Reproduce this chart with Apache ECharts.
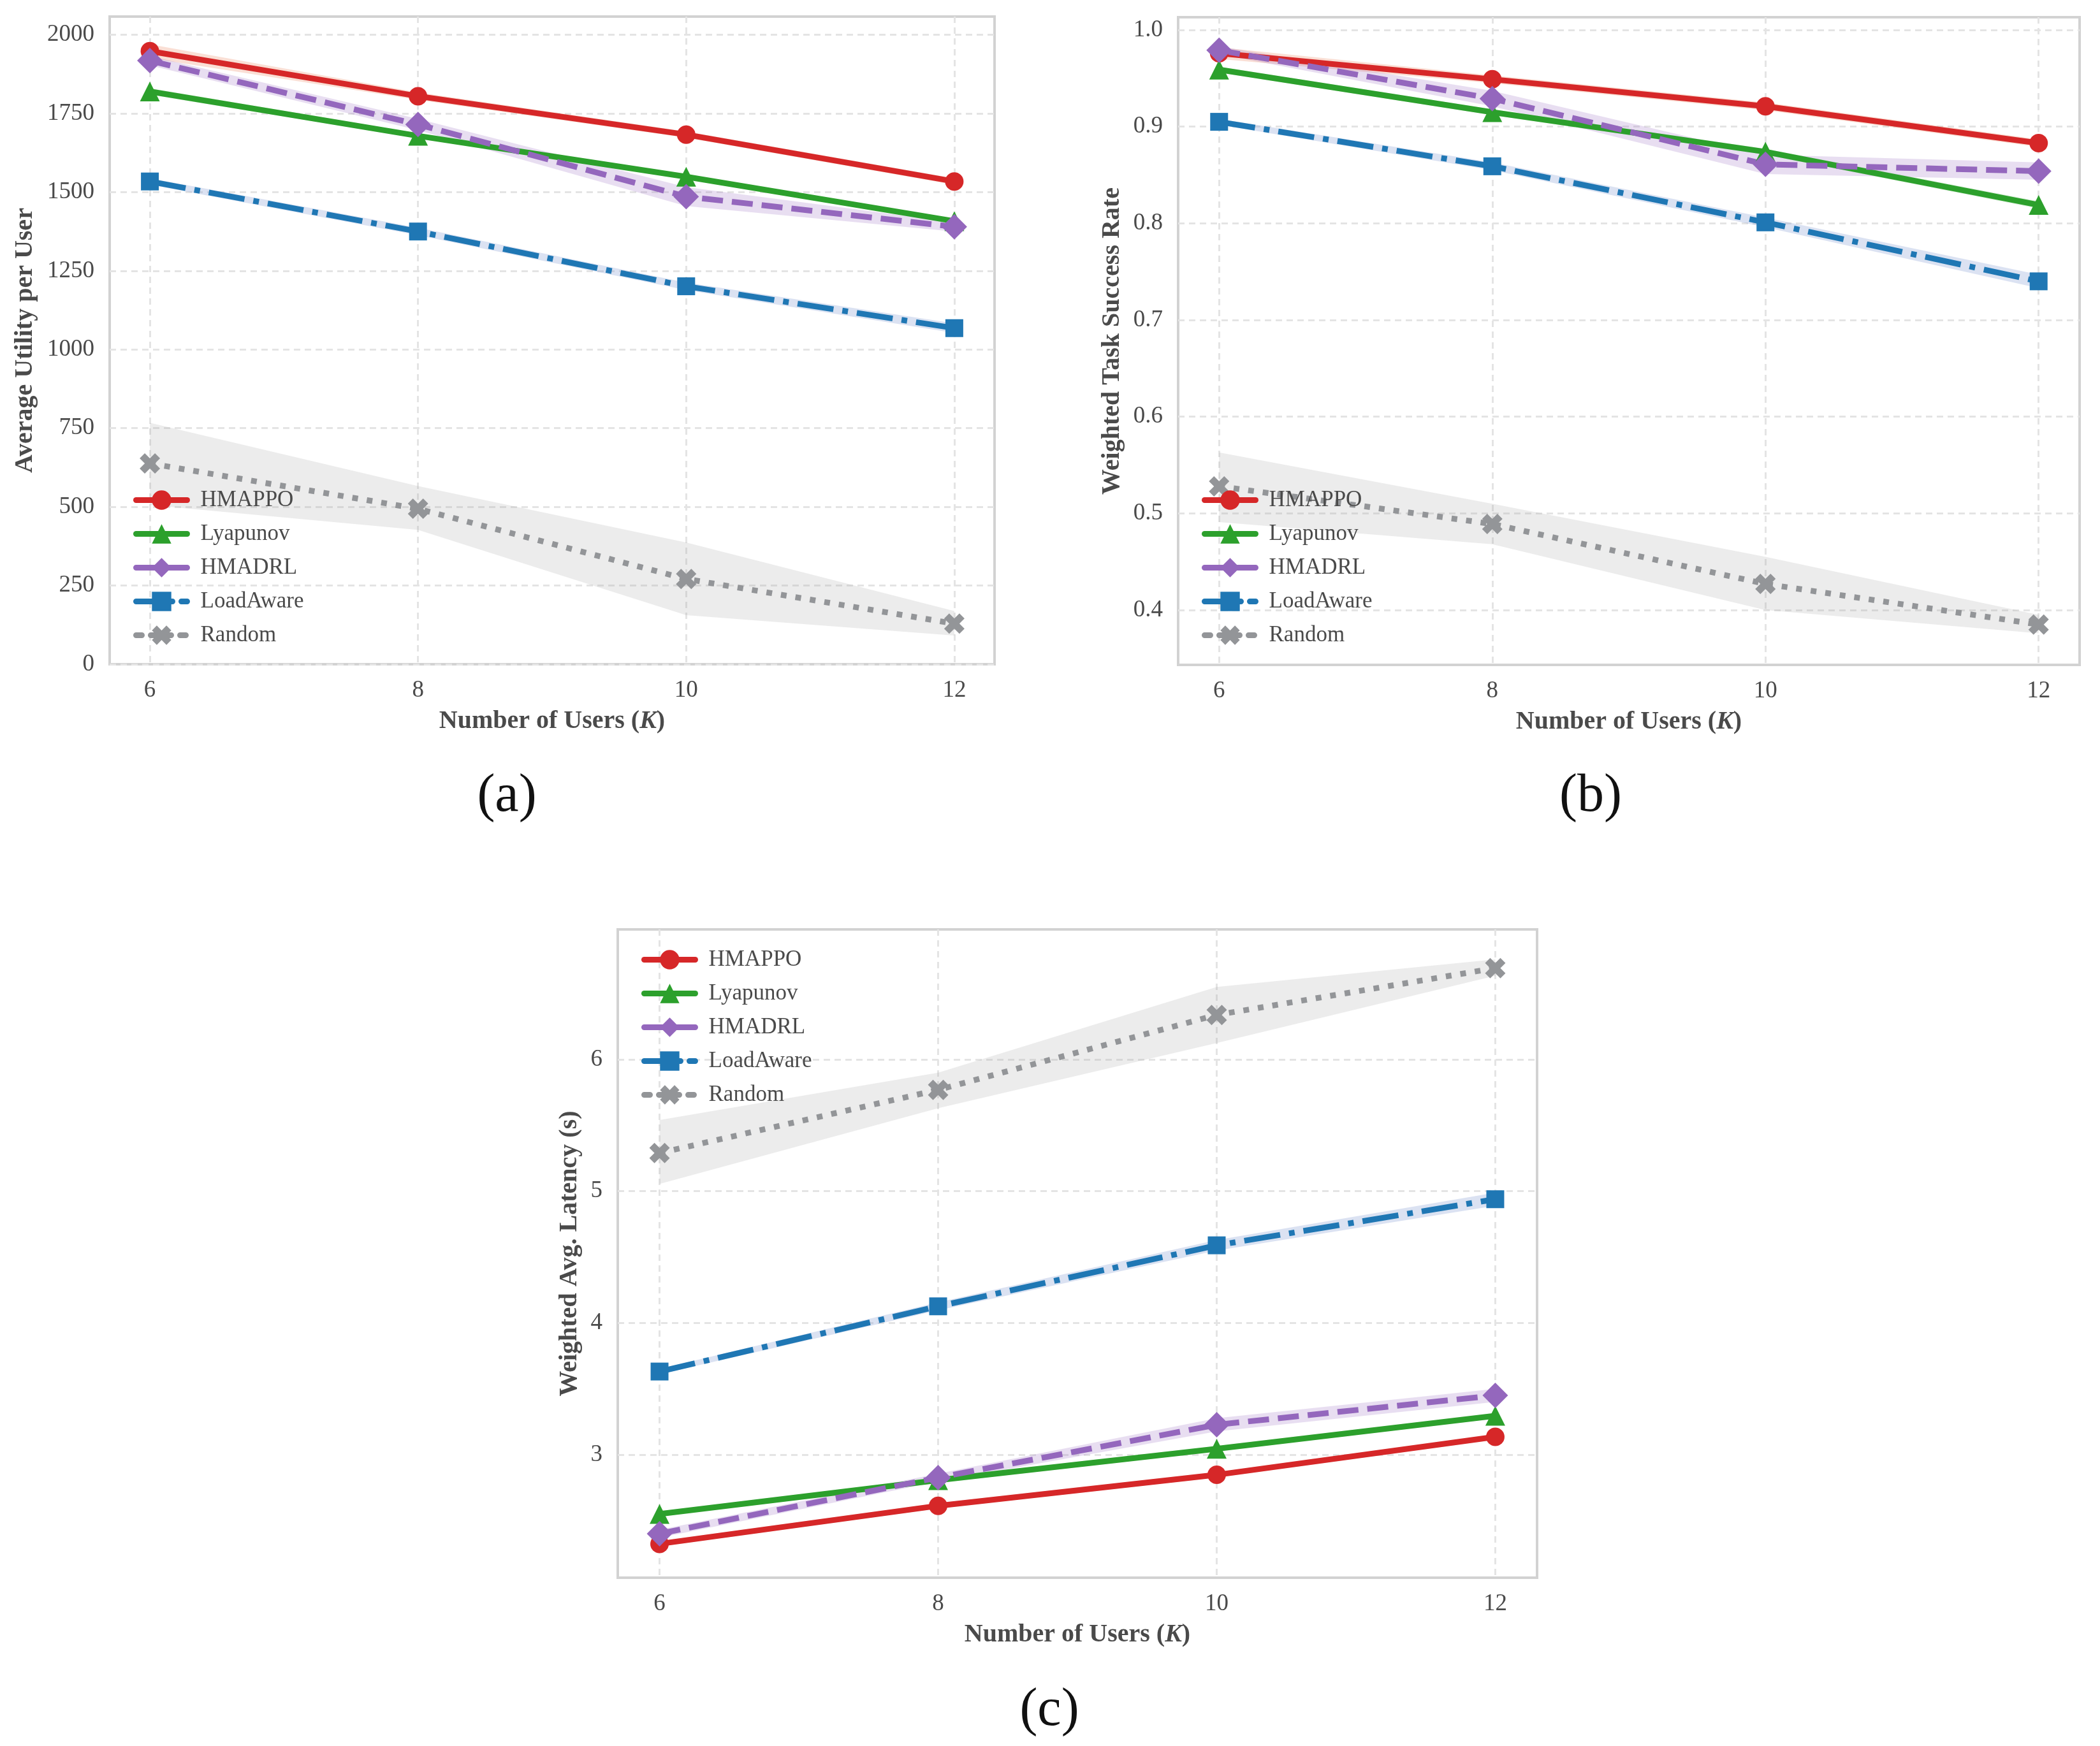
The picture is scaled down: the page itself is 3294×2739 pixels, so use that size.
<!DOCTYPE html>
<html>
<head>
<meta charset="utf-8">
<script src="https://cdn.jsdelivr.net/npm/echarts@6.0.0/dist/echarts.min.js"></script>
<style>
  html, body { margin: 0; padding: 0; background: #fff; }
  #main { width: 3294px; height: 2739px; }
</style>
</head>
<body>
<div id="main"></div>
<script>
// x values shared by all three panels
const users = [6, 8, 10, 12];
const methods = ['HMAPPO', 'Lyapunov', 'HMADRL', 'LoadAware', 'Random'];

// (a) average utility per user
const utilHMAPPO = [1948, 1805, 1683, 1534];
const utilLyapunov = [1820, 1679, 1549, 1408];
const utilHMADRL = [1918, 1715, 1486, 1390];
const utilLoadAware = [1534, 1375, 1201, 1068];
const utilRandom = [638, 494, 271, 129];
const utilRandomLow = [506, 427, 156, 91];
const utilRandomHigh = [767, 566, 387, 169];
const utilSpreadHMAPPO = [22, 12, 10, 10];
const utilSpreadLyapunov = [10, 8, 8, 8];
const utilSpreadHMADRL = [15, 18, 30, 15];
const utilSpreadLoadAware = [10, 12, 12, 15];
const utilTicks = [0, 250, 500, 750, 1000, 1250, 1500, 1750, 2000];

// (b) weighted task success rate
const succHMAPPO = [0.976, 0.949, 0.921, 0.883];
const succLyapunov = [0.959, 0.915, 0.874, 0.819];
const succHMADRL = [0.979, 0.929, 0.861, 0.854];
const succLoadAware = [0.905, 0.859, 0.801, 0.740];
const succRandom = [0.528, 0.489, 0.427, 0.385];
const succRandomLow = [0.491, 0.468, 0.400, 0.376];
const succRandomHigh = [0.563, 0.510, 0.455, 0.395];
const succSpreadHMAPPO = [0.006, 0.004, 0.004, 0.004];
const succSpreadLyapunov = [0.003, 0.003, 0.003, 0.004];
const succSpreadHMADRL = [0.004, 0.008, 0.010, 0.009];
const succSpreadLoadAware = [0.003, 0.004, 0.005, 0.007];
const succTicks = [0.4, 0.5, 0.6, 0.7, 0.8, 0.9, 1.0];

// (c) weighted avg. latency
const latHMAPPO = [2.323, 2.612, 2.847, 3.135];
const latLyapunov = [2.55, 2.806, 3.045, 3.295];
const latHMADRL = [2.40, 2.826, 3.227, 3.45];
const latLoadAware = [3.631, 4.126, 4.589, 4.939];
const latRandom = [5.29, 5.769, 6.338, 6.693];
const latRandomLow = [5.055, 5.63, 6.125, 6.635];
const latRandomHigh = [5.54, 5.90, 6.55, 6.76];
const latSpreadHMAPPO = [0.02, 0.02, 0.02, 0.02];
const latSpreadLyapunov = [0.02, 0.02, 0.02, 0.02];
const latSpreadHMADRL = [0.03, 0.03, 0.05, 0.05];
const latSpreadLoadAware = [0.02, 0.03, 0.04, 0.05];
const latTicks = [3, 4, 5, 6];

const xTicks = [6, 8, 10, 12];

const FONT = "'Liberation Serif', 'Times New Roman', serif";
const TXT = '#4a4a4a';
const xShape = 'path://M2.5,0 L5,2.5 L7.5,0 L10,2.5 L7.5,5 L10,7.5 L7.5,10 L5,7.5 L2.5,10 L0,7.5 L2.5,5 L0,2.5 Z';

const styles = {
  HMAPPO:    { color: '#d62728', type: 'solid',         symbol: 'circle',   size: 29, band: 'rgba(235,120,80,0.24)' },
  Lyapunov:  { color: '#2ca02c', type: 'solid',         symbol: 'triangle', size: 31, band: 'rgba(44,160,44,0.14)' },
  HMADRL:    { color: '#9467bd', type: [33, 14],        symbol: 'diamond',  size: 40, band: 'rgba(148,103,189,0.22)' },
  LoadAware: { color: '#1f77b4', type: [57, 14, 9, 14], symbol: 'rect',     size: 28, band: 'rgba(110,140,205,0.25)' },
  Random:    { color: '#939598', type: [9, 14],         symbol: xShape,     size: 32, band: 'rgba(150,150,150,0.18)' }
};

function band(gi, lo, hi, color) {
  return {
    type: 'custom', xAxisIndex: gi, yAxisIndex: gi, z: 1, silent: true, clip: true,
    data: users.map((x, i) => [x, lo[i], hi[i]]),
    encode: { x: 0, y: [1, 2] },
    renderItem: function (params, api) {
      if (params.dataIndex !== 0) return null;
      const top = users.map((x, i) => api.coord([x, hi[i]]));
      const bot = users.map((x, i) => api.coord([x, lo[i]])).reverse();
      return { type: 'polygon', shape: { points: top.concat(bot) }, style: { fill: color } };
    }
  };
}

function spreadBand(gi, mean, spread, color) {
  return band(gi, mean.map((v, i) => v - spread[i]), mean.map((v, i) => v + spread[i]), color);
}

function line(gi, name, values) {
  const s = styles[name];
  return {
    type: 'line', name: name, xAxisIndex: gi, yAxisIndex: gi, z: 3,
    data: users.map((x, i) => [x, values[i]]),
    symbol: s.symbol, symbolSize: s.size, showSymbol: true,
    itemStyle: { color: s.color, borderWidth: 0 },
    lineStyle: { color: s.color, width: 9, type: s.type, join: 'round' },
    emphasis: { disabled: true }
  };
}

function panel(gi, sets) {
  const out = [];
  methods.forEach(m => {
    const d = sets[m];
    if (d.low) out.push(band(gi, d.low, d.high, styles[m].band));
    else out.push(spreadBand(gi, d.mean, d.spread, styles[m].band));
  });
  methods.forEach(m => out.push(line(gi, m, sets[m].mean)));
  return out;
}

const series = [].concat(
  panel(0, {
    HMAPPO: { mean: utilHMAPPO, spread: utilSpreadHMAPPO },
    Lyapunov: { mean: utilLyapunov, spread: utilSpreadLyapunov },
    HMADRL: { mean: utilHMADRL, spread: utilSpreadHMADRL },
    LoadAware: { mean: utilLoadAware, spread: utilSpreadLoadAware },
    Random: { mean: utilRandom, low: utilRandomLow, high: utilRandomHigh }
  }),
  panel(1, {
    HMAPPO: { mean: succHMAPPO, spread: succSpreadHMAPPO },
    Lyapunov: { mean: succLyapunov, spread: succSpreadLyapunov },
    HMADRL: { mean: succHMADRL, spread: succSpreadHMADRL },
    LoadAware: { mean: succLoadAware, spread: succSpreadLoadAware },
    Random: { mean: succRandom, low: succRandomLow, high: succRandomHigh }
  }),
  panel(2, {
    HMAPPO: { mean: latHMAPPO, spread: latSpreadHMAPPO },
    Lyapunov: { mean: latLyapunov, spread: latSpreadLyapunov },
    HMADRL: { mean: latHMADRL, spread: latSpreadHMADRL },
    LoadAware: { mean: latLoadAware, spread: latSpreadLoadAware },
    Random: { mean: latRandom, low: latRandomLow, high: latRandomHigh }
  })
);

const gridLine = { show: true, lineStyle: { color: '#e4e4e4', width: 3, type: [10, 7] } };

function xAxis(gi) {
  return {
    type: 'value', gridIndex: gi, min: 5.7, max: 12.3,
    name: 'Number of Users ({k|K})', nameLocation: 'middle', nameGap: 70,
    nameTextStyle: { fontFamily: FONT, fontSize: 40, fontWeight: 'bold', color: TXT,
      rich: { k: { fontFamily: FONT, fontSize: 40, fontStyle: 'italic', color: TXT } } },
    axisLine: { show: false },
    axisTick: { show: false, customValues: xTicks },
    axisLabel: { customValues: xTicks, fontFamily: FONT, fontSize: 37, color: TXT, margin: 23 },
    splitLine: gridLine
  };
}

function yAxis(gi, name, min, max, ticks, gap, fmt) {
  return {
    type: 'value', gridIndex: gi, min: min, max: max,
    name: name, nameLocation: 'middle', nameGap: gap,
    nameTextStyle: { fontFamily: FONT, fontSize: 40, fontWeight: 'bold', color: TXT },
    axisLine: { show: false },
    axisTick: { show: false, customValues: ticks },
    axisLabel: { customValues: ticks, fontFamily: FONT, fontSize: 37, color: TXT, margin: 24, formatter: fmt },
    splitLine: gridLine
  };
}

function legend(left, top) {
  return {
    data: methods, orient: 'vertical', left: left, top: top,
    itemWidth: 80, itemHeight: 38, itemGap: 18,
    lineStyle: { width: 'inherit', cap: 'round' },
    textStyle: { fontFamily: FONT, fontSize: 35, color: TXT, padding: [0, 0, 0, 16] },
    selectedMode: false
  };
}

const gridBase = { show: true, borderColor: '#d2d2d2', borderWidth: 4, backgroundColor: '#fff', outerBoundsMode: 'none' };

const option = {
  animation: false,
  backgroundColor: '#ffffff',
  grid: [
    Object.assign({ left: 172, top: 26, width: 1388, height: 1016 }, gridBase),
    Object.assign({ left: 1848, top: 27, width: 1414, height: 1016 }, gridBase),
    Object.assign({ left: 969, top: 1458, width: 1442, height: 1017 }, gridBase)
  ],
  xAxis: [xAxis(0), xAxis(1), xAxis(2)],
  yAxis: [
    yAxis(0, 'Average Utility per User', 0, 2058, utilTicks, 112, v => String(v)),
    yAxis(1, 'Weighted Task Success Rate', 0.3433, 1.0132, succTicks, 83, v => v.toFixed(1)),
    yAxis(2, 'Weighted Avg. Latency (s)', 2.066, 6.987, latTicks, 55, v => String(v))
  ],
  legend: [legend(204, 762), legend(1880, 762), legend(1001, 1483)],
  graphic: [
    { type: 'text', style: { text: '(a)', x: 795, y: 1250, align: 'center', verticalAlign: 'middle', font: "84px 'Liberation Serif', serif", fill: '#111' } },
    { type: 'text', style: { text: '(b)', x: 2495, y: 1250, align: 'center', verticalAlign: 'middle', font: "84px 'Liberation Serif', serif", fill: '#111' } },
    { type: 'text', style: { text: '(c)', x: 1646, y: 2684, align: 'center', verticalAlign: 'middle', font: "84px 'Liberation Serif', serif", fill: '#111' } }
  ],
  series: series
};

const chart = echarts.init(document.getElementById('main'), null, { renderer: 'canvas' });
chart.setOption(option);
</script>
</body>
</html>
